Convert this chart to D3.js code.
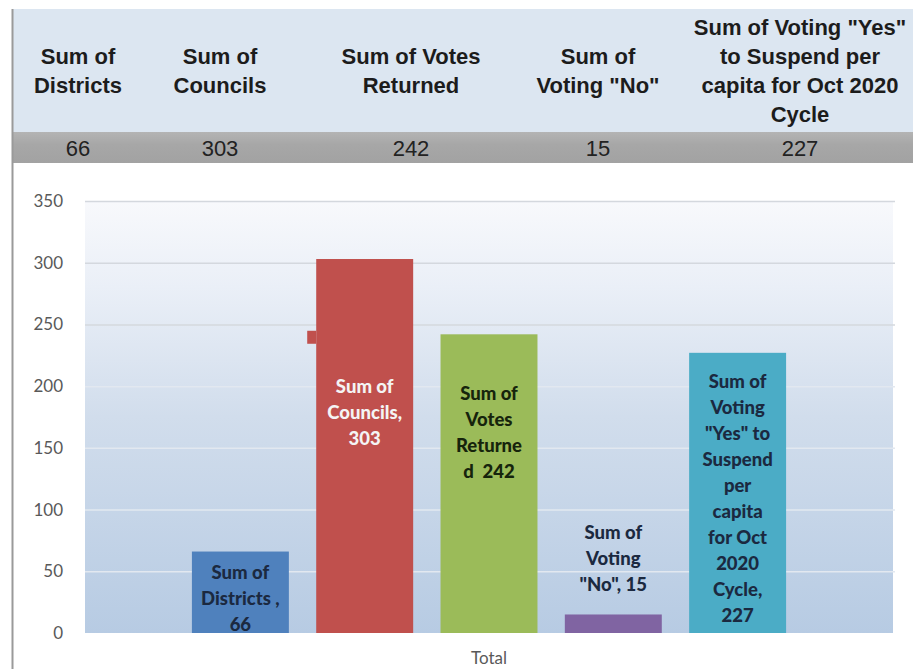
<!DOCTYPE html>
<html>
<head>
<meta charset="utf-8">
<script src="https://cdn.jsdelivr.net/npm/d3@7"></script>
<style>
  body { margin: 0; background: #fff; }
  svg { display: block; }
  .head { font-family: "Liberation Sans", Arial, sans-serif; font-weight: bold; font-size: 22px; fill: #1c1c1c; }
  .headval { font-family: "Liberation Sans", Arial, sans-serif; font-size: 22px; fill: #222; }
  .axis text { font-family: Lato, "Open Sans", sans-serif; font-size: 17px; fill: #595959; }
  .barlabel { font-family: Lato, "Open Sans", sans-serif; font-weight: 900; font-size: 18.5px; white-space: pre; }
</style>
</head>
<body>
<div id="chart"></div>
<script>
/* DATA */
const series = [
  "Sum of Districts",
  "Sum of Councils",
  "Sum of Votes Returned",
  "Sum of Voting \"No\"",
  "Sum of Voting \"Yes\" to Suspend per capita for Oct 2020 Cycle"
];
const values = [66, 303, 242, 15, 227];
const yTicks = [0, 50, 100, 150, 200, 250, 300, 350];
const category = "Total";

// header table text, one array of lines per column
const headerLines = [
  ["Sum of", "Districts"],
  ["Sum of", "Councils"],
  ["Sum of Votes", "Returned"],
  ["Sum of", "Voting \"No\""],
  ["Sum of Voting \"Yes\"", "to Suspend per", "capita for Oct 2020", "Cycle"]
];

// data labels as they wrap inside the chart
const barLabelLines = [
  ["Sum of", "Districts ,", "66"],
  ["Sum of", "Councils,", "303"],
  ["Sum of", "Votes", "Returne", "d  242"],
  ["Sum of", "Voting", "\"No\", 15"],
  ["Sum of", "Voting", "\"Yes\" to", "Suspend", "per", "capita", "for Oct", "2020", "Cycle,", "227"]
];

/* LAYOUT */
const width = 913, height = 669;
const plot = { left: 85, right: 893, top: 201, bottom: 633 };
const headerCols = [78, 220, 411, 598, 800];   // column centres of the table
const labelAt = [28, 179, 163, 61, 109];       // label block centre, in axis units
const colors = ["#4f81bd", "#c0504d", "#9bbb59", "#8064a2", "#4bacc6"];
const labelColors = ["#1b2940", "#f4f4f4", "#16240c", "#1b2940", "#1b2940"];

const svg = d3.select("#chart").append("svg")
  .attr("width", width)
  .attr("height", height);

const defs = svg.append("defs");

// + HEADER TABLE
svg.append("rect")
  .attr("x", 12).attr("y", 9)
  .attr("width", width - 12).attr("height", 123)
  .attr("fill", "#dce6f1");

const grayGrad = defs.append("linearGradient")
  .attr("id", "rowgrad").attr("x1", 0).attr("x2", 0).attr("y1", 0).attr("y2", 1);
grayGrad.append("stop").attr("offset", "0%").attr("stop-color", "#b4b4b4");
grayGrad.append("stop").attr("offset", "40%").attr("stop-color", "#a7a7a7");
grayGrad.append("stop").attr("offset", "100%").attr("stop-color", "#a2a2a2");

svg.append("rect")
  .attr("x", 12).attr("y", 132)
  .attr("width", width - 12).attr("height", 31)
  .attr("fill", "url(#rowgrad)");

svg.append("line")
  .attr("x1", 12.5).attr("x2", 12.5)
  .attr("y1", 9).attr("y2", height)
  .attr("stroke", "#9a9a9a").attr("stroke-width", 2);

const headLineH = 29, headMid = 70.5;
svg.append("g")
  .selectAll("text")
  .data(headerLines)
  .join("text")
  .attr("class", "head")
  .attr("text-anchor", "middle")
  .each(function (lines, i) {
    d3.select(this).selectAll("tspan")
      .data(lines)
      .join("tspan")
      .attr("x", headerCols[i])
      .attr("y", (d, j) => headMid + (j - (lines.length - 1) / 2) * headLineH)
      .attr("dominant-baseline", "central")
      .text(d => d);
  });

svg.append("g")
  .selectAll("text")
  .data(values)
  .join("text")
  .attr("class", "headval")
  .attr("text-anchor", "middle")
  .attr("dominant-baseline", "central")
  .attr("x", (d, i) => headerCols[i])
  .attr("y", 148)
  .text(d => d);

// + SCALES
const xScale = d3.scaleBand()
  .domain(series)
  .range([plot.left, plot.right])
  .paddingInner(0.22)
  .paddingOuter(0.86);

const yScale = d3.scaleLinear()
  .domain([0, 350])
  .range([plot.bottom, plot.top]);

// + PLOT BACKGROUND
const bg = defs.append("linearGradient")
  .attr("id", "bggrad").attr("x1", 0).attr("x2", 0).attr("y1", 0).attr("y2", 1);
bg.append("stop").attr("offset", "0%").attr("stop-color", "#f8f9fc");
bg.append("stop").attr("offset", "20%").attr("stop-color", "#eaeff7");
bg.append("stop").attr("offset", "50%").attr("stop-color", "#d1ddec");
bg.append("stop").attr("offset", "100%").attr("stop-color", "#b7cbe3");

svg.append("rect")
  .attr("x", plot.left).attr("y", plot.top)
  .attr("width", plot.right - plot.left)
  .attr("height", plot.bottom - plot.top)
  .attr("fill", "url(#bggrad)");

// + GRIDLINES
svg.append("g")
  .attr("class", "grid")
  .attr("transform", `translate(${plot.left},0)`)
  .call(d3.axisLeft(yScale).tickValues(yTicks.filter(d => d > 0)).tickSize(-(plot.right - plot.left + 2)).tickFormat(""))
  .call(g => g.select(".domain").remove())
  .call(g => g.selectAll("line")
    .attr("stroke", d => d >= 250 ? "#d4d8de" : "#e2e8f0")
    .attr("stroke-width", 1.5));

// + AXIS LABELS
svg.append("g")
  .attr("class", "axis")
  .attr("transform", "translate(63,0)")
  .call(d3.axisLeft(yScale).tickValues(yTicks).tickSize(0).tickPadding(0))
  .call(g => g.select(".domain").remove());

svg.append("text")
  .attr("x", (plot.left + plot.right) / 2)
  .attr("y", 657)
  .attr("text-anchor", "middle")
  .attr("dominant-baseline", "central")
  .attr("font-family", "Lato, 'Open Sans', sans-serif")
  .attr("font-size", 17)
  .attr("fill", "#595959")
  .text(category);

// + BARS
svg.append("g")
  .selectAll("rect")
  .data(series)
  .join("rect")
  .attr("x", d => xScale(d))
  .attr("y", (d, i) => yScale(values[i]))
  .attr("width", xScale.bandwidth())
  .attr("height", (d, i) => yScale(0) - yScale(values[i]))
  .attr("fill", (d, i) => colors[i]);

// small stray key mark beside the councils bar
svg.append("rect")
  .attr("x", xScale(series[1]) - 9)
  .attr("y", yScale(240) - 6)
  .attr("width", 9).attr("height", 13)
  .attr("fill", colors[1]);

// + DATA LABELS
const lblLineH = 26;
svg.append("g")
  .selectAll("text")
  .data(barLabelLines)
  .join("text")
  .attr("class", "barlabel")
  .attr("text-anchor", "middle")
  .attr("fill", (d, i) => labelColors[i])
  .each(function (lines, i) {
    const cx = xScale(series[i]) + xScale.bandwidth() / 2;
    const cy = yScale(labelAt[i]);
    d3.select(this).selectAll("tspan")
      .data(lines)
      .join("tspan")
      .attr("x", cx)
      .attr("y", (d, j) => cy + (j - (lines.length - 1) / 2) * lblLineH)
      .attr("dominant-baseline", "central")
      .text(d => d);
  });
</script>
</body>
</html>
